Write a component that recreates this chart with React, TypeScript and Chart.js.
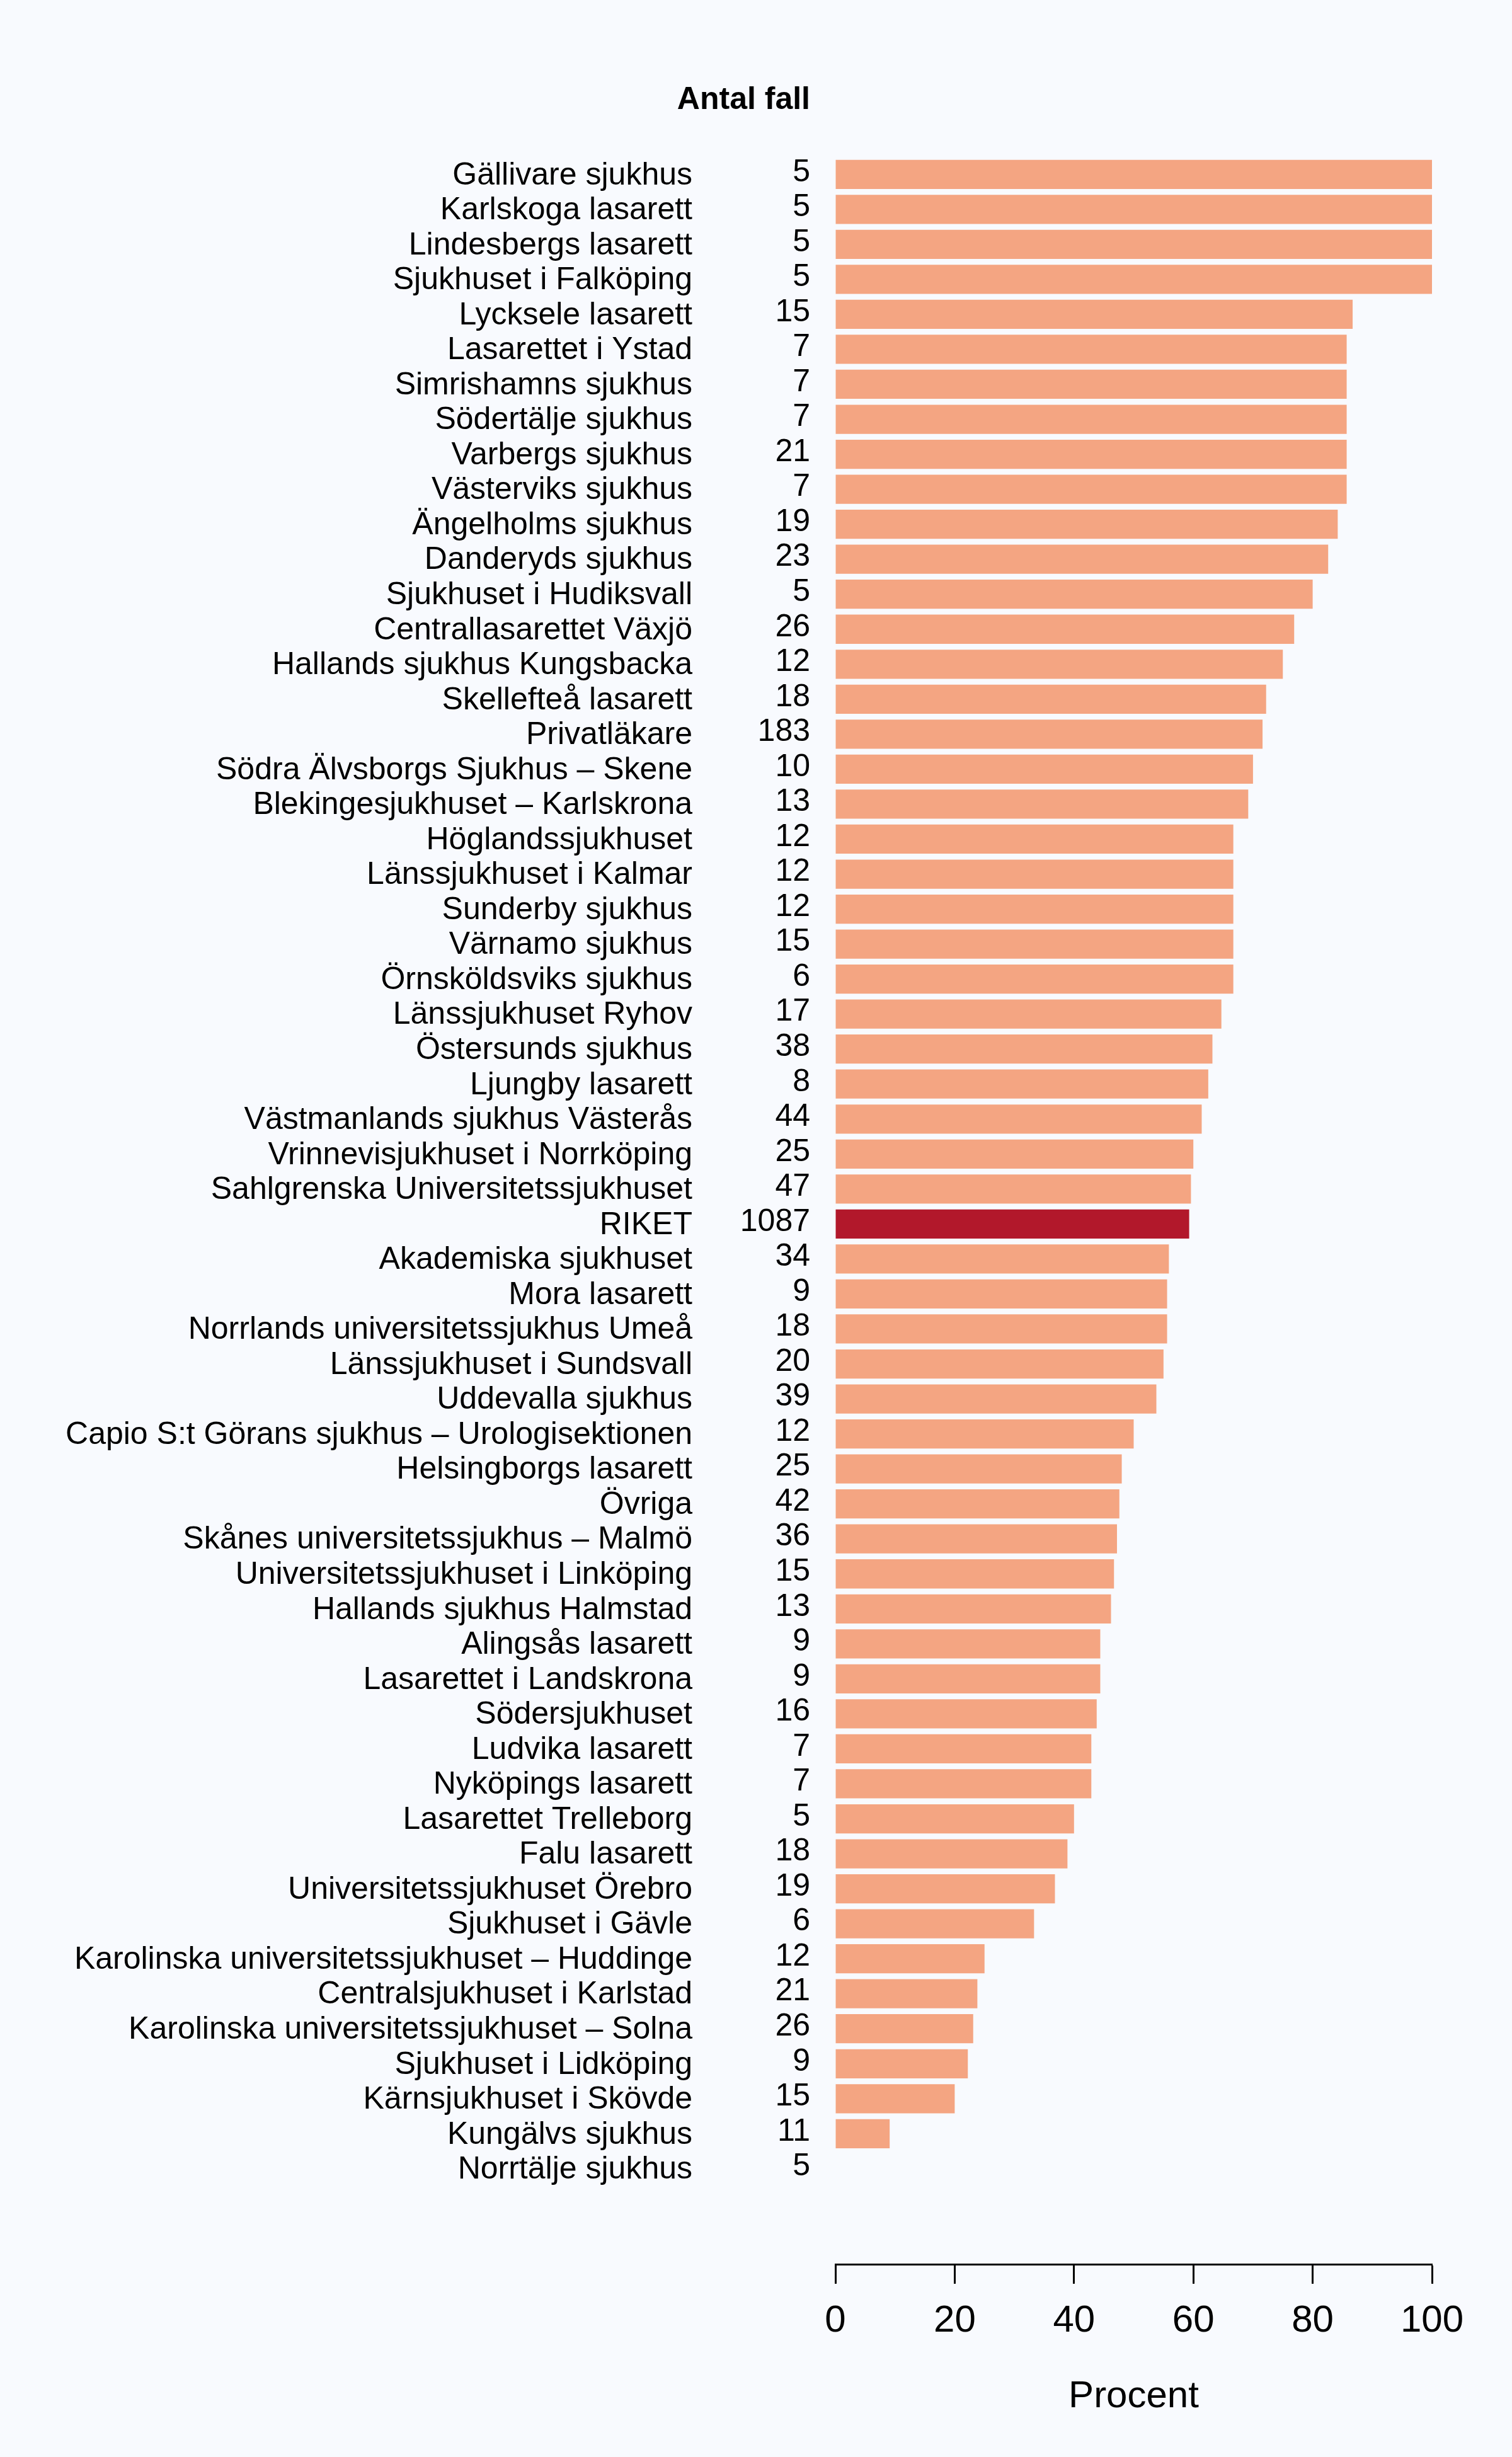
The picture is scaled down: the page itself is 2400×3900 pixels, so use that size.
import { useEffect, useRef } from 'react';
import { Chart, registerables } from 'chart.js';

Chart.register(...registerables);

const hospitals: string[] = [
  'Gällivare sjukhus',
  'Karlskoga lasarett',
  'Lindesbergs lasarett',
  'Sjukhuset i Falköping',
  'Lycksele lasarett',
  'Lasarettet i Ystad',
  'Simrishamns sjukhus',
  'Södertälje sjukhus',
  'Varbergs sjukhus',
  'Västerviks sjukhus',
  'Ängelholms sjukhus',
  'Danderyds sjukhus',
  'Sjukhuset i Hudiksvall',
  'Centrallasarettet Växjö',
  'Hallands sjukhus Kungsbacka',
  'Skellefteå lasarett',
  'Privatläkare',
  'Södra Älvsborgs Sjukhus – Skene',
  'Blekingesjukhuset – Karlskrona',
  'Höglandssjukhuset',
  'Länssjukhuset i Kalmar',
  'Sunderby sjukhus',
  'Värnamo sjukhus',
  'Örnsköldsviks sjukhus',
  'Länssjukhuset Ryhov',
  'Östersunds sjukhus',
  'Ljungby lasarett',
  'Västmanlands sjukhus Västerås',
  'Vrinnevisjukhuset i Norrköping',
  'Sahlgrenska Universitetssjukhuset',
  'RIKET',
  'Akademiska sjukhuset',
  'Mora lasarett',
  'Norrlands universitetssjukhus Umeå',
  'Länssjukhuset i Sundsvall',
  'Uddevalla sjukhus',
  'Capio S:t Görans sjukhus – Urologisektionen',
  'Helsingborgs lasarett',
  'Övriga',
  'Skånes universitetssjukhus – Malmö',
  'Universitetssjukhuset i Linköping',
  'Hallands sjukhus Halmstad',
  'Alingsås lasarett',
  'Lasarettet i Landskrona',
  'Södersjukhuset',
  'Ludvika lasarett',
  'Nyköpings lasarett',
  'Lasarettet Trelleborg',
  'Falu lasarett',
  'Universitetssjukhuset Örebro',
  'Sjukhuset i Gävle',
  'Karolinska universitetssjukhuset – Huddinge',
  'Centralsjukhuset i Karlstad',
  'Karolinska universitetssjukhuset – Solna',
  'Sjukhuset i Lidköping',
  'Kärnsjukhuset i Skövde',
  'Kungälvs sjukhus',
  'Norrtälje sjukhus',
];

const cases: number[] = [
  5, 5, 5, 5, 15, 7, 7, 7, 21, 7, 19, 23, 5, 26, 12, 18, 183, 10, 13, 12, 12, 12, 15, 6, 17, 38, 8, 44, 25, 47,
  1087, 34, 9, 18, 20, 39, 12, 25, 42, 36, 15, 13, 9, 9, 16, 7, 7, 5, 18, 19, 6, 12, 21, 26, 9, 15, 11, 5,
];

const percent: number[] = [
  100, 100, 100, 100, 86.7, 85.7, 85.7, 85.7, 85.7, 85.7, 84.2, 82.6, 80, 76.9, 75, 72.2, 71.6, 70, 69.2, 66.7,
  66.7, 66.7, 66.7, 66.7, 64.7, 63.2, 62.5, 61.4, 60, 59.6, 59.3, 55.9, 55.6, 55.6, 55, 53.8, 50, 48, 47.6, 47.2,
  46.7, 46.2, 44.4, 44.4, 43.8, 42.9, 42.9, 40, 38.9, 36.8, 33.3, 25, 23.8, 23.1, 22.2, 20, 9.1, 0,
];

const highlightName = 'RIKET';
const countHeader = 'Antal fall';
const xTitle = 'Procent';

const FONT = '"Liberation Sans", Arial, Helvetica, sans-serif';
const BG = '#F8FAFE';
const BAR = '#F4A582';
const BAR_HL = '#B2182B';

const bgPlugin = {
  id: 'bgFill',
  beforeDraw(chart: any) {
    const { ctx, width, height } = chart;
    ctx.save();
    ctx.fillStyle = BG;
    ctx.fillRect(0, 0, width, height);
    ctx.restore();
  },
};

const headerPlugin = {
  id: 'countHeader',
  afterDraw(chart: any) {
    const s = chart.scales.y;
    const { ctx } = chart;
    ctx.save();
    ctx.font = `bold 50px ${FONT}`;
    ctx.fillStyle = '#000';
    ctx.textAlign = 'right';
    ctx.textBaseline = 'alphabetic';
    ctx.fillText(countHeader, s.right - 40, 173);
    ctx.restore();
  },
};

export default function App() {
  const ref = useRef<HTMLCanvasElement | null>(null);

  useEffect(() => {
    document.body.style.margin = '0';
    document.body.style.background = BG;
    const canvas = ref.current;
    if (!canvas) return;
    const n = hospitals.length;
    const data = percent.map((v, i) => ({ x: v, y: i + 1 }));
    const colors = hospitals.map((h) => (h === highlightName ? BAR_HL : BAR));

    const yCommon = {
      type: 'linear',
      position: 'left',
      reverse: true,
      offset: false,
      min: 0.5,
      max: 60.73,
      grid: { display: false, drawTicks: false, offset: false },
      border: { display: false },
    };

    const labelFor = (list: (string | number)[]) => (v: any) => {
      const num = Number(v);
      const r = Math.round(num);
      if (Math.abs(num - r) > 1e-6) return '';
      const i = r - 1;
      return i >= 0 && i < n ? String(list[i]) : '';
    };

    const chart = new Chart(canvas, {
      type: 'bar',
      data: {
        datasets: [
          {
            data: data as any,
            backgroundColor: colors,
            borderWidth: 0,
            barPercentage: 0.833,
            categoryPercentage: 1,
            yAxisID: 'y',
            xAxisID: 'x',
          },
        ],
      },
      plugins: [bgPlugin, headerPlugin],
      options: {
        indexAxis: 'y',
        animation: false,
        responsive: false,
        devicePixelRatio: 1,
        layout: { padding: { top: 249, right: 127, bottom: 0, left: 0 } },
        plugins: { legend: { display: false }, tooltip: { enabled: false }, title: { display: false } },
        scales: {
          x: {
            type: 'linear',
            position: 'bottom',
            min: 0,
            max: 100,
            grid: {
              display: true,
              drawOnChartArea: false,
              drawTicks: true,
              tickLength: 31,
              tickWidth: 3,
              tickColor: '#000',
            },
            border: { display: true, color: '#000', width: 3 },
            ticks: {
              stepSize: 20,
              padding: 23,
              color: '#000',
              font: { size: 60, family: FONT },
              maxRotation: 0,
            },
            title: {
              display: true,
              text: xTitle,
              color: '#000',
              font: { size: 60, family: FONT },
              padding: { top: 0, bottom: 60 },
            },
            afterFit: (s: any) => {
              s.height = 306;
            },
          },
          y: {
            ...yCommon,
            weight: 1,
            ticks: {
              stepSize: 1,
              autoSkip: false,
              includeBounds: false,
              padding: 40,
              labelOffset: -3,
              color: '#000',
              font: { size: 50, family: FONT },
              callback: labelFor(cases),
            },
            afterFit: (s: any) => {
              s.width = 153;
            },
          },
          yName: {
            ...yCommon,
            weight: 2,
            ticks: {
              stepSize: 1,
              autoSkip: false,
              includeBounds: false,
              padding: 74,
              labelOffset: 2,
              color: '#000',
              font: { size: 50, family: FONT },
              callback: labelFor(hospitals),
            },
            afterFit: (s: any) => {
              s.width = 1173;
            },
          },
        },
      } as any,
    });
    return () => chart.destroy();
  }, []);

  return (
    <canvas
      ref={ref}
      width={2400}
      height={3900}
      style={{ display: 'block', width: '2400px', height: '3900px' }}
    />
  );
}
